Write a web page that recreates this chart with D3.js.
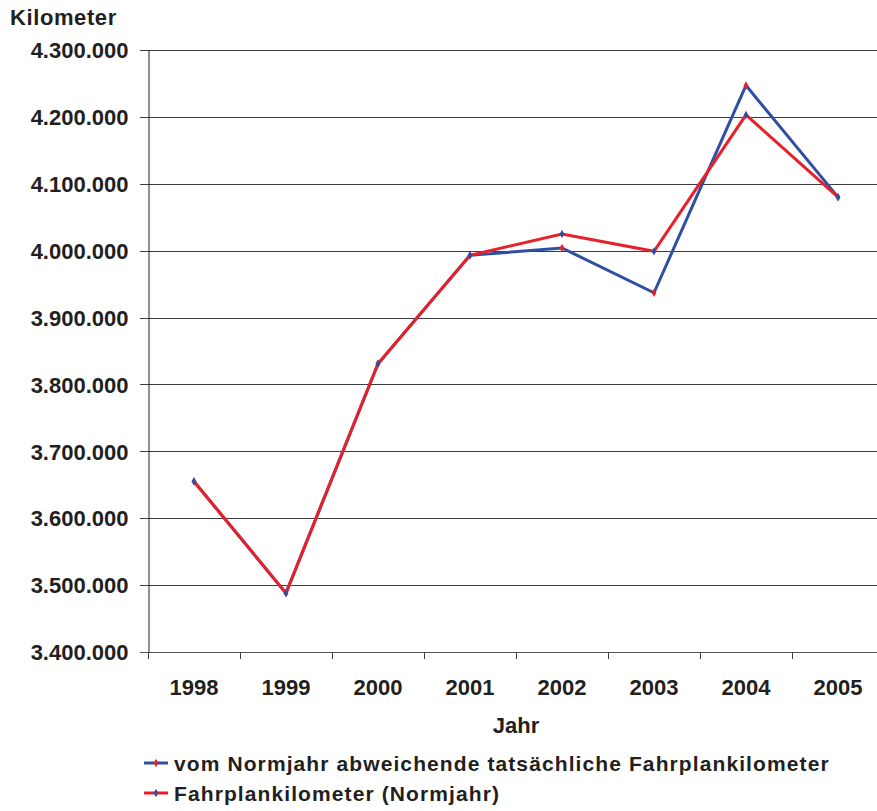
<!DOCTYPE html>
<html>
<head>
<meta charset="utf-8">
<script src="https://cdn.jsdelivr.net/npm/d3@7"></script>
<style>
  body { margin: 0; background: #fff; }
  svg text { font-family: "Liberation Sans", Arial, sans-serif; font-weight: bold; fill: #231f20; }
</style>
</head>
<body>
<div id="graph"></div>
<script>
// Jahre (Kategorien)
const years = ["1998", "1999", "2000", "2001", "2002", "2003", "2004", "2005"]
// vom Normjahr abweichende tatsächliche Fahrplankilometer
const actualKm = [3655000, 3488000, 3831000, 3993000, 4004000, 3937000, 4247000, 4080000]
// Fahrplankilometer (Normjahr)
const normKm = [3655000, 3488000, 3831000, 3993000, 4025000, 3999000, 4203000, 4080000]
const yTicks = [3400000, 3500000, 3600000, 3700000, 3800000, 3900000, 4000000, 4100000, 4200000, 4300000]
const seriesNames = ["vom Normjahr abweichende tatsächliche Fahrplankilometer", "Fahrplankilometer (Normjahr)"]

const width = 877, height = 811
const plotLeft = 148, plotRight = 884, plotTop = 50, plotBottom = 652

const svg = d3.select('#graph').append('svg')
  .attr('width', width).attr('height', height)

const xScale = d3.scaleBand().domain(years).range([plotLeft, plotRight])
const yScale = d3.scaleLinear().domain([3400000, 4300000]).range([plotBottom, plotTop])

const fmt = v => d3.format(',')(v).replace(/,/g, '.')

// grid lines
svg.append('g')
  .selectAll('line')
  .data(yTicks)
  .enter().append('line')
  .attr('x1', plotLeft - 8).attr('x2', width)
  .attr('y1', d => Math.round(yScale(d)) + 0.5)
  .attr('y2', d => Math.round(yScale(d)) + 0.5)
  .attr('stroke', d => d === 3400000 ? '#555' : '#3c3c3c')
  .attr('stroke-width', 1)

// y axis
const yAxis = d3.axisLeft(yScale).tickValues(yTicks).tickFormat(fmt).tickSize(0).tickPadding(20)
svg.append('g')
  .attr('transform', `translate(${plotLeft + 0.5},0)`)
  .call(yAxis)
  .call(g => g.select('.domain').attr('stroke', '#231f20'))
  .call(g => g.selectAll('text').style('font-size', '22px').attr('dy', '0.35em'))

// x axis
const xAxis = d3.axisBottom(xScale).tickSize(0).tickPadding(27)
svg.append('g')
  .attr('transform', `translate(0,${Math.round(plotBottom) + 0.5})`)
  .call(xAxis)
  .call(g => g.select('.domain').remove())
  .call(g => g.selectAll('text').style('font-size', '22px'))

// category boundary ticks
svg.append('g')
  .selectAll('line')
  .data(years)
  .enter().append('line')
  .attr('x1', d => Math.round(xScale(d)) + 0.5)
  .attr('x2', d => Math.round(xScale(d)) + 0.5)
  .attr('y1', plotBottom).attr('y2', plotBottom + 7)
  .attr('stroke', '#444')

// axis titles
svg.append('text').attr('x', 10).attr('y', 25)
  .style('font-size', '22px').style('letter-spacing', '0.6px').text('Kilometer')
svg.append('text').attr('x', (plotLeft + plotRight) / 2).attr('y', 733)
  .attr('text-anchor', 'middle').style('font-size', '22px').text('Jahr')

const cx = d => xScale(d) + xScale.bandwidth() / 2
const line = d3.line().x(d => cx(d[0])).y(d => yScale(d[1]))

const series = [
  { values: actualKm, stroke: '#2f4fa3', marker: '#e8202a' },
  { values: normKm, stroke: '#e8202a', marker: '#2f4fa3' }
]

series.forEach(s => {
  const pts = years.map((y, i) => [y, s.values[i]])
  svg.append('path')
    .attr('d', line(pts))
    .attr('fill', 'none')
    .attr('stroke', s.stroke)
    .attr('stroke-width', 3)
  svg.append('g').selectAll('path')
    .data(pts)
    .enter().append('path')
    .attr('d', d3.symbol(d3.symbolDiamond, 20)())
    .attr('transform', d => `translate(${cx(d[0])},${yScale(d[1])})`)
    .attr('fill', s.marker)
})

// legend
const legend = svg.append('g')
seriesNames.forEach((name, i) => {
  const y = 763 + i * 30
  legend.append('line')
    .attr('x1', 144).attr('x2', 168).attr('y1', y).attr('y2', y)
    .attr('stroke', series[i].stroke).attr('stroke-width', 3)
  legend.append('path')
    .attr('d', d3.symbol(d3.symbolDiamond, 20)())
    .attr('transform', `translate(156,${y})`)
    .attr('fill', series[i].marker)
  legend.append('text')
    .attr('x', 174).attr('y', y + 8)
    .style('font-size', '21px')
    .style('letter-spacing', '1.1px')
    .text(name)
})
</script>
</body>
</html>
